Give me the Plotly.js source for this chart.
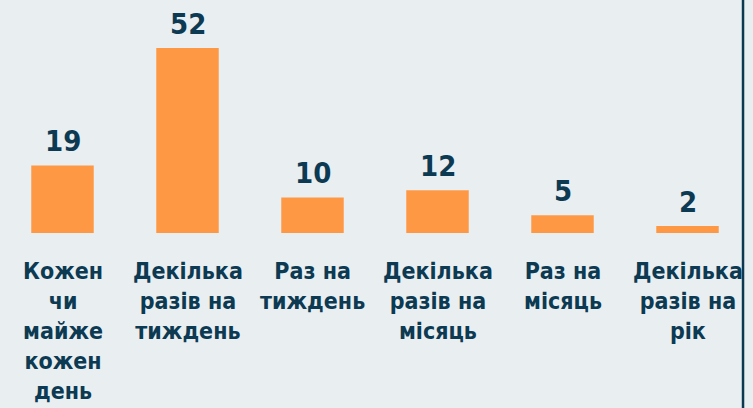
<!DOCTYPE html>
<html><head><meta charset="utf-8">
<script src="https://cdn.plot.ly/plotly-3.0.1.min.js"></script>
<style>html,body{margin:0;padding:0;background:#e9eef0;}</style>
</head><body>
<div id="chart" style="width:753px;height:408px;"></div>
<script>
const categories = [
  "Кожен<br>чи<br>майже<br>кожен<br>день",
  "Декілька<br>разів на<br>тиждень",
  "Раз на<br>тиждень",
  "Декілька<br>разів на<br>місяць",
  "Раз на<br>місяць",
  "Декілька<br>разів на<br>рік"
];
const values = [19, 52, 10, 12, 5, 2];
const valueLabels = ["19", "52", "10", "12", "5", "2"];

const textColor = "#0d3a53";
const fontFam = "'DejaVu Sans Condensed', 'DejaVu Sans', sans-serif";
const xs = categories.map((c, i) => i);

const annotations = [];
values.forEach((v, i) => {
  annotations.push({
    x: i, y: v, xref: 'x', yref: 'y', text: '<b>' + valueLabels[i] + '</b>',
    showarrow: false, yanchor: 'bottom', yshift: 5,
    font: {family: fontFam, size: 29, color: textColor}
  });
  annotations.push({
    x: i, y: 0, xref: 'x', yref: 'paper', text: '<b>' + categories[i] + '</b>',
    showarrow: false, yanchor: 'top', yshift: -23, align: 'center',
    font: {family: fontFam, size: 23, color: textColor}
  });
});

const data = [{
  type: 'bar', x: xs, y: values, width: 0.5,
  marker: {color: '#ff9844'}, hoverinfo: 'none'
}];

const layout = {
  width: 753, height: 408,
  margin: {l: 0, r: 3, t: 0, b: 175},
  paper_bgcolor: '#e9eef0', plot_bgcolor: '#e9eef0',
  showlegend: false,
  xaxis: {range: [-0.5, 5.5], visible: false, fixedrange: true},
  yaxis: {range: [0, 65.5], visible: false, fixedrange: true},
  annotations: annotations,
  shapes: [{
    type: 'line', xref: 'paper', yref: 'paper',
    x0: 0.9907, x1: 0.9907, y0: -0.76, y1: 1.01,
    line: {color: '#0d3850', width: 2.5}
  }]
};
Plotly.newPlot('chart', data, layout, {staticPlot: true});
</script>
</body></html>
